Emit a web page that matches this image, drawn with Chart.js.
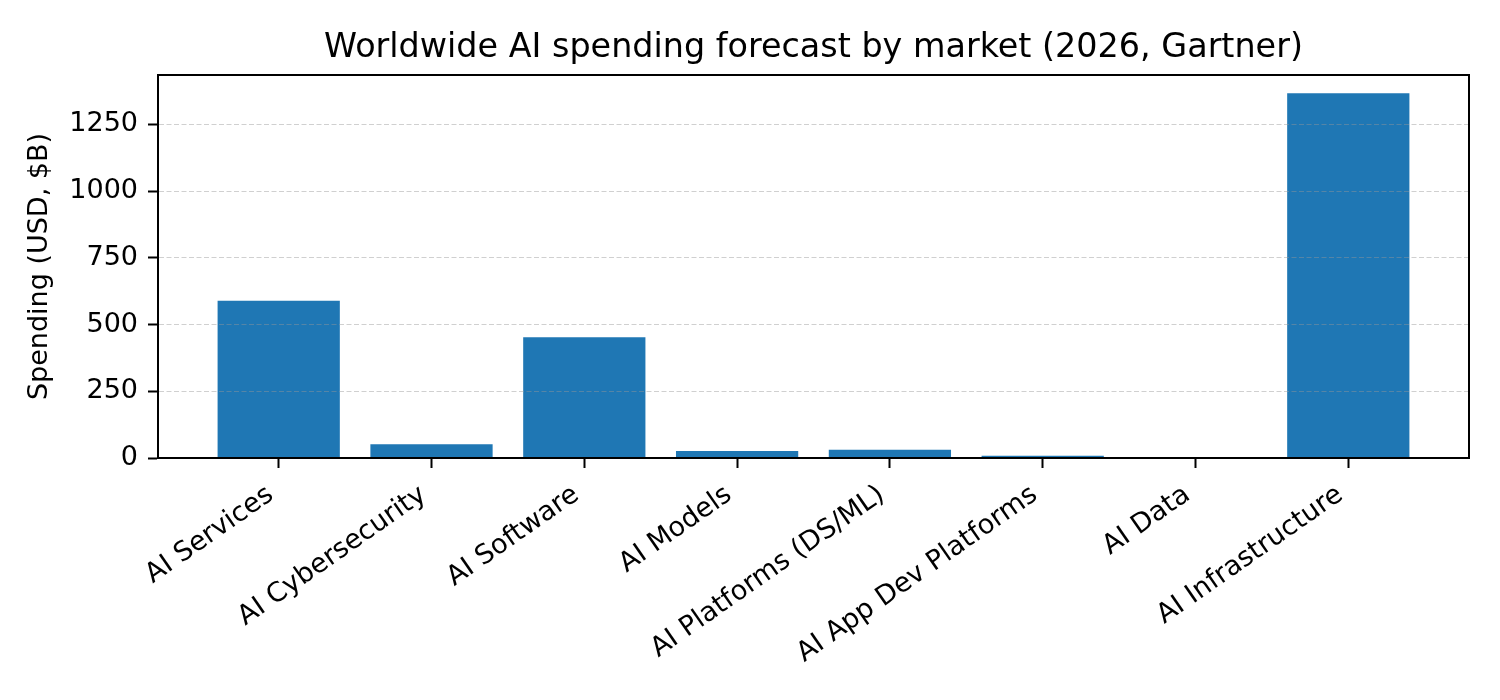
<!DOCTYPE html>
<html>
<head>
<meta charset="utf-8">
<script src="https://cdn.jsdelivr.net/npm/chart.js@4.4.1/dist/chart.umd.min.js"></script>
<style>
html,body{margin:0;padding:0;background:#fff;}
#wrap{width:1500px;height:700px;}
</style>
</head>
<body>
<div id="wrap"><canvas id="c" width="1500" height="700"></canvas></div>
<script>
const categories = ["AI Services","AI Cybersecurity","AI Software","AI Models","AI Platforms (DS/ML)","AI App Dev Platforms","AI Data","AI Infrastructure"];
const spending = [588.6, 51.3, 452.5, 26.4, 31.1, 8.4, 3.1, 1366.4];
const yTicks = [0, 250, 500, 750, 1000, 1250];
const titleText = "Worldwide AI spending forecast by market (2026, Gartner)";
const yLabel = "Spending (USD, $B)";

const FONT = "'DejaVu Sans', sans-serif";

const frame = {
  id: 'frame',
  afterDraw(chart) {
    const {ctx, chartArea: a} = chart;
    ctx.save();
    ctx.strokeStyle = '#000';
    ctx.lineWidth = 2;
    ctx.strokeRect(a.left, a.top, a.right - a.left, a.bottom - a.top);
    // title centered over the plot area
    ctx.fillStyle = '#000';
    ctx.font = "33.4px " + FONT;
    ctx.textAlign = 'center';
    ctx.textBaseline = 'alphabetic';
    ctx.fillText(titleText, (a.left + a.right) / 2, 57);
    ctx.restore();
  }
};

new Chart(document.getElementById('c'), {
  type: 'bar',
  data: {
    datasets: [{
      data: spending.map((v, i) => ({x: i, y: v})),
      backgroundColor: '#1f77b4',
      borderWidth: 0,
      barPercentage: 0.8,
      categoryPercentage: 1.0
    }]
  },
  options: {
    responsive: false,
    animation: false,
    devicePixelRatio: 1,
    layout: {padding: {left: 0, right: 31, top: 75, bottom: 0}},
    plugins: {
      legend: {display: false},
      tooltip: {enabled: false},
      title: {display: false}
    },
    scales: {
      x: {
        type: 'linear',
        offset: false,
        min: -0.79,
        max: 7.79,
        afterBuildTicks: (axis) => { axis.ticks = categories.map((c, i) => ({value: i})); },
        afterFit: (s) => { s.height = 242; },
        ticks: {
          autoSkip: false,
          maxRotation: 35,
          minRotation: 35,
          padding: 11,
          labelOffset: -8,
          color: '#000',
          font: {family: FONT, size: 27},
          callback: (v) => categories[v]
        },
        grid: {offset: false, drawOnChartArea: false, drawTicks: true, tickLength: 10, tickColor: '#000', tickWidth: 2},
        border: {display: true, color: '#000', width: 2}
      },
      y: {
        min: 0,
        max: 1434.7,
        afterBuildTicks: (axis) => { axis.ticks = yTicks.map(v => ({value: v})); },
        afterFit: (s) => { s.width = 158; },
        ticks: {
          padding: 10,
          color: '#000',
          font: {family: FONT, size: 27},
          callback: (v) => String(v)
        },
        title: {
          display: true,
          text: yLabel,
          color: '#000',
          font: {family: FONT, size: 27},
          padding: {top: 24, bottom: 0}
        },
        grid: {color: 'rgba(150,150,150,0.45)', lineWidth: 1, tickLength: 10, tickColor: '#000', tickWidth: 2, tickBorderDash: [], z: 1},
        border: {display: true, color: '#000', width: 2, dash: [5, 2.5], z: 1}
      }
    }
  },
  plugins: [frame]
});
</script>
</body>
</html>
